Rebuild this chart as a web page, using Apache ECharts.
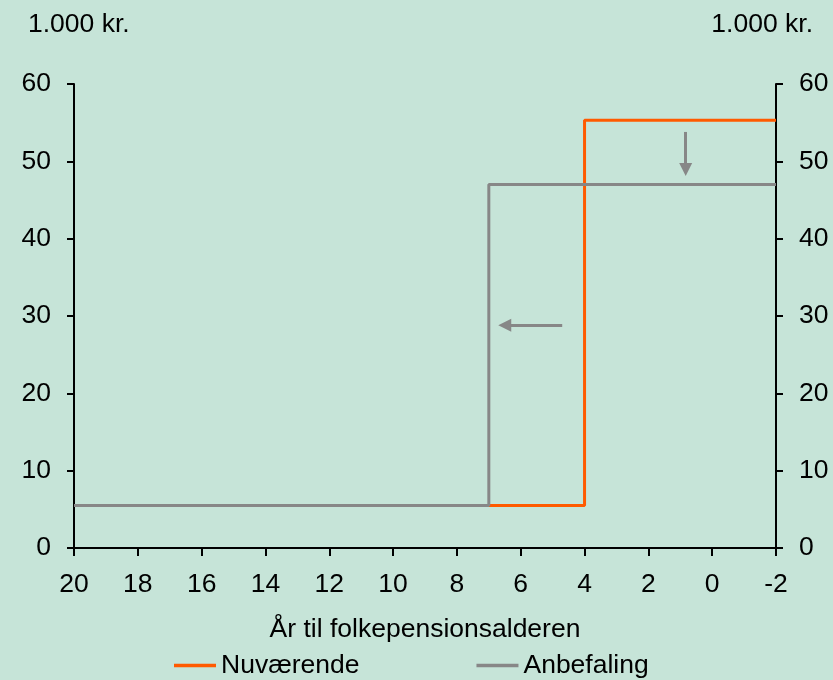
<!DOCTYPE html>
<html>
<head>
<meta charset="utf-8">
<script src="https://cdn.jsdelivr.net/npm/echarts@6/dist/echarts.min.js"></script>
<style>
  html, body { margin: 0; padding: 0; background: #c6e4d8; }
  #chart { width: 833px; height: 680px; }
</style>
</head>
<body>
<div id="chart"></div>
<script>
// Years until state pension age (x) and amount in 1.000 kr. (y)
const nuvaerendeYears = [20, 4, 4, -2];
const nuvaerendeValues = [5.5, 5.5, 55.3, 55.3];
const anbefalingYears = [20, 7, 7, -2];
const anbefalingValues = [5.5, 5.5, 47, 47];

// Arrows showing the proposed shift (start -> arrowhead centre, data coordinates)
const arrowDown = { from: [0.83, 53.8], to: [0.83, 48.95] };
const arrowLeft = { from: [4.7, 28.8], to: [6.5, 28.8] };

const yTicks = { min: 0, max: 60, interval: 10 };
const xTicks = { min: -2, max: 20, interval: 2 };

const FONT = 'Liberation Sans, Arial, sans-serif';
const FS = 26.5;
const ORANGE = '#ff5a00';
const GREY = '#878787';

const zip = (xs, ys) => xs.map((x, i) => [x, ys[i]]);

const chart = echarts.init(document.getElementById('chart'), null, { renderer: 'canvas' });

const yAxisBase = {
  type: 'value',
  min: yTicks.min, max: yTicks.max, interval: yTicks.interval,
  splitLine: { show: false },
  axisLine: { show: true, onZero: false, lineStyle: { color: '#000', width: 2 } },
  axisTick: { show: true, length: 7, lineStyle: { color: '#000', width: 2 } },
  axisLabel: { color: '#000', fontSize: FS, fontFamily: FONT, margin: 23 }
};

chart.setOption({
  backgroundColor: '#c6e4d8',
  animation: false,
  textStyle: { fontFamily: FONT },
  title: [
    { text: '1.000 kr.', left: 23, top: 6,
      textStyle: { fontSize: FS, fontWeight: 'normal', color: '#000', fontFamily: FONT } },
    { text: '1.000 kr.', right: 15, top: 6,
      textStyle: { fontSize: FS, fontWeight: 'normal', color: '#000', fontFamily: FONT } }
  ],
  grid: { left: 74, right: 57, top: 84, bottom: 132, containLabel: false },
  xAxis: {
    type: 'value',
    inverse: true,
    min: xTicks.min, max: xTicks.max, interval: xTicks.interval,
    name: 'År til folkepensionsalderen',
    nameLocation: 'middle',
    nameGap: 68,
    nameTextStyle: { color: '#000', fontSize: FS, fontFamily: FONT },
    splitLine: { show: false },
    axisLine: { show: true, onZero: false, lineStyle: { color: '#000', width: 2 } },
    axisTick: { show: true, length: 8, lineStyle: { color: '#000', width: 2 } },
    axisLabel: { color: '#000', fontSize: FS, fontFamily: FONT, margin: 23 }
  },
  yAxis: [
    Object.assign({}, yAxisBase, { position: 'left' }),
    Object.assign({}, yAxisBase, { position: 'right' })
  ],
  legend: {
    left: 169,
    top: 647,
    icon: 'rect',
    itemWidth: 42,
    itemHeight: 3.5,
    itemGap: 117,
    textStyle: { color: '#000', fontSize: FS, fontFamily: FONT },
    data: ['Nuværende', 'Anbefaling']
  },
  series: [
    {
      name: 'Nuværende',
      type: 'line',
      yAxisIndex: 0,
      data: zip(nuvaerendeYears, nuvaerendeValues),
      symbol: 'none',
      lineStyle: { color: ORANGE, width: 3 },
      itemStyle: { color: ORANGE },
      z: 2
    },
    {
      name: 'Anbefaling',
      type: 'line',
      yAxisIndex: 0,
      data: zip(anbefalingYears, anbefalingValues),
      symbol: 'none',
      lineStyle: { color: GREY, width: 3 },
      itemStyle: { color: GREY },
      z: 3,
      markLine: {
        silent: true,
        symbol: ['none', 'triangle'],
        symbolSize: [13, 13],
        label: { show: false },
        lineStyle: { color: GREY, width: 3, type: 'solid' },
        data: [
          [{ coord: arrowDown.from }, { coord: arrowDown.to }],
          [{ coord: arrowLeft.from }, { coord: arrowLeft.to }]
        ]
      }
    }
  ]
});
</script>
</body>
</html>
